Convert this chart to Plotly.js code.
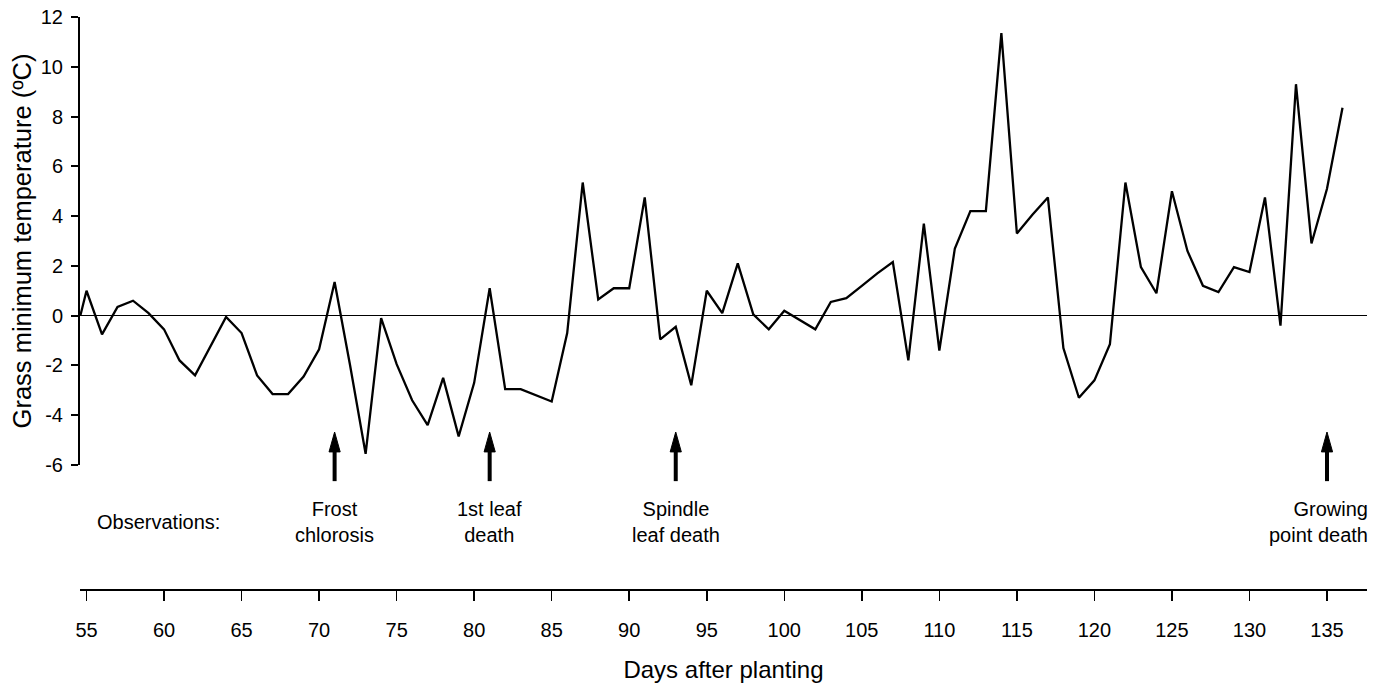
<!DOCTYPE html>
<html>
<head>
<meta charset="utf-8">
<script src="https://cdn.plot.ly/plotly-3.0.1.min.js"></script>
<style>html,body{margin:0;padding:0;background:#fff;}#chart{width:1378px;height:687px;}</style>
</head>
<body>
<div id="chart"></div>
<script>
// Days after planting (x) and grass minimum temperature (°C)
const days = [54.6,55,56,57,58,59,60,61,62,63,64,65,66,67,68,69,70,71,72,73,74,75,76,77,78,79,
  80,81,82,83,84,85,86,87,88,89,90,91,92,93,94,95,96,97,98,99,100,102,103,104,105,106,107,108,109,
  110,111,112,113,114,115,116,117,118,119,120,121,122,123,124,125,126,127,128,129,130,131,132,133,134,135,136];
const temps = [0.0,1.0,-0.75,0.35,0.6,0.1,-0.55,-1.8,-2.4,-1.2,-0.05,-0.7,-2.4,-3.15,-3.15,-2.45,-1.35,1.35,-2.0,-5.55,-0.1,-1.95,-3.4,-4.4,-2.5,-4.85,
  -2.7,1.1,-2.95,-2.95,-3.2,-3.45,-0.7,5.35,0.65,1.1,1.1,4.75,-0.95,-0.45,-2.8,1.0,0.1,2.1,0.05,-0.55,0.2,-0.55,0.55,0.7,1.2,1.7,2.15,-1.8,3.7,
  -1.4,2.7,4.2,4.2,11.35,3.3,4.05,4.75,-1.3,-3.3,-2.6,-1.15,5.35,1.95,0.9,5.0,2.6,1.2,0.95,1.95,1.75,4.75,-0.4,9.3,2.9,5.1,8.35];

// Tick labels
const yTickVals = [-6,-4,-2,0,2,4,6,8,10,12];
const yTickText = ["-6","-4","-2","0","2","4","6","8","10","12"];
const xTickVals = [55,60,65,70,75,80,85,90,95,100,105,110,115,120,125,130,135];
const xTickText = xTickVals.map(String);

// Observations
const obsDays = [71, 81, 93, 135];
const obsLabels = ["Frost<br>chlorosis", "1st leaf<br>death", "Spindle<br>leaf death", "Growing<br>point death"];

const FONT = "Liberation Sans, Arial, sans-serif";

const trace = {
  x: days, y: temps, type: 'scatter', mode: 'lines',
  line: {color: '#000', width: 2.3}, hoverinfo: 'skip', showlegend: false
};

// arrow geometry (paper units / days)
const tailY = 0.190, baseY = 0.241, tipY = 0.2757, halfW = 0.36;
const shapes = [];
obsDays.forEach(d => {
  shapes.push({type: 'line', xref: 'x', yref: 'paper', x0: d, x1: d, y0: tailY, y1: baseY + 0.004,
    line: {color: '#000', width: 4}});
  shapes.push({type: 'path', xref: 'x', yref: 'paper',
    path: `M ${d - halfW},${baseY} L ${d},${tipY} L ${d + halfW},${baseY} Z`,
    fillcolor: '#000', line: {color: '#000', width: 1}});
});

const annotations = obsLabels.map((t, i) => {
  const last = i === obsLabels.length - 1;
  return {
    text: t, xref: 'x', yref: 'paper', x: obsDays[i], y: 0.1187,
    xanchor: last ? 'right' : 'center', yanchor: 'middle',
    align: last ? 'right' : 'center', xshift: last ? 43 : 0,
    showarrow: false, font: {family: FONT, size: 20, color: '#000'}
  };
});
annotations.push({
  text: 'Observations:', xref: 'paper', yref: 'paper', x: 0.0117, y: 0.1187,
  xanchor: 'left', yanchor: 'middle', showarrow: false,
  font: {family: FONT, size: 20, color: '#000'}
});

const layout = {
  width: 1378, height: 687,
  margin: {l: 80, r: 11, t: 17, b: 97},
  paper_bgcolor: '#fff', plot_bgcolor: '#fff',
  font: {family: FONT, size: 20, color: '#000'},
  showlegend: false,
  xaxis: {
    range: [54.58, 137.58], anchor: 'free', position: 0,
    showgrid: false, zeroline: false, showline: true, linecolor: '#000', linewidth: 2,
    ticks: 'outside', ticklen: 10, tickwidth: 1.5, tickcolor: '#000',
    tickmode: 'array', tickvals: xTickVals, ticktext: xTickText,
    ticklabelstandoff: 12,
    tickfont: {family: FONT, size: 20, color: '#000'},
    title: {text: 'Days after planting', font: {family: FONT, size: 24, color: '#000'}, standoff: 20}
  },
  yaxis: {
    range: [-6, 12], domain: [0.2182, 1],
    showgrid: false, zeroline: true, zerolinecolor: '#000', zerolinewidth: 1.5,
    showline: true, linecolor: '#000', linewidth: 2,
    ticks: 'outside', ticklen: 7, tickwidth: 2, tickcolor: '#000',
    tickmode: 'array', tickvals: yTickVals, ticktext: yTickText,
    ticklabelstandoff: 4,
    tickfont: {family: FONT, size: 20, color: '#000'},
    title: {text: 'Grass minimum temperature (ºC)', font: {family: FONT, size: 25.5, color: '#000'}, standoff: 2}
  },
  shapes: shapes,
  annotations: annotations
};

Plotly.newPlot('chart', [trace], layout, {staticPlot: true, displayModeBar: false});
</script>
</body>
</html>
